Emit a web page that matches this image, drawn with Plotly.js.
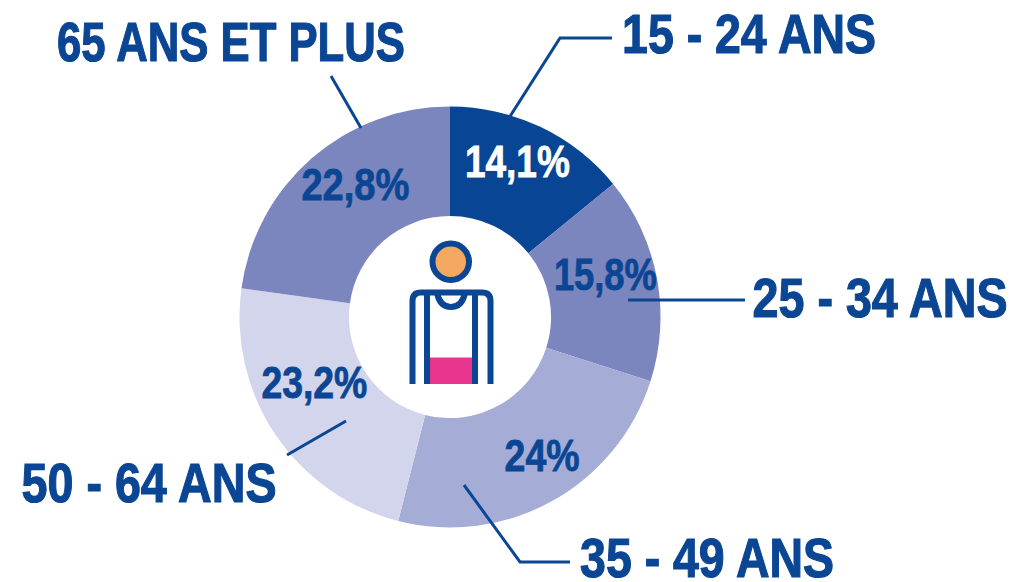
<!DOCTYPE html>
<html><head><meta charset="utf-8">
<script src="https://cdn.plot.ly/plotly-3.0.1.min.js"></script>
<style>html,body{margin:0;padding:0;background:#fff}#c{width:1034px;height:582px}</style>
</head><body><div id="c"></div>
<script>
const ageGroups = ["15 - 24 ANS","25 - 34 ANS","35 - 49 ANS","50 - 64 ANS","65 ANS ET PLUS"];
const shares = [14.1,15.8,24,23.2,22.8];
const shareLabels = ["14,1%","15,8%","24%","23,2%","22,8%"];
const sliceColors = ["#084594","#7a86bd","#a5acd6","#d2d5eb","#7a86bd"];
const W=1034,H=582,FONT='"Liberation Sans",Arial,sans-serif',BLUE="#0b4694";
const px=x=>x/W, py=y=>1-y/H;
const cx=450,cy=317,R=210.5;
const trace={type:"pie",values:shares,labels:ageGroups,sort:false,direction:"clockwise",rotation:0,hole:0.48,
  domain:{x:[px(cx-R),px(cx+R)],y:[py(cy+R),py(cy-R)]},
  marker:{colors:sliceColors,line:{width:0}},textinfo:"none",showlegend:false,hoverinfo:"label+value"};
const ageAnchors=[[749,33],[879.5,297],[707,557],[148.5,482],[231,42]];
const ageWidths=[254,255,254,255,348];
const pctAnchors=[[517.5,161],[605.5,274],[541.5,455],[314,382],[355,184]];
const pctWidths=[105,103,75,106,108];
const pctColors=["#ffffff",BLUE,BLUE,BLUE,BLUE];
const ann=[];
ageGroups.forEach((t,i)=>ann.push({text:t,x:px(ageAnchors[i][0]),y:py(ageAnchors[i][1]),xref:"paper",yref:"paper",xanchor:"center",yanchor:"middle",showarrow:false,font:{family:FONT,size:56,weight:700,color:BLUE}}));
shareLabels.forEach((t,i)=>ann.push({text:t,x:px(pctAnchors[i][0]),y:py(pctAnchors[i][1]),xref:"paper",yref:"paper",xanchor:"center",yanchor:"middle",showarrow:false,font:{family:FONT,size:44,weight:700,color:pctColors[i]}}));
const P=pts=>pts.map((p,i)=>(i?"L":"M")+px(p[0])+","+py(p[1])).join(" ");
const sh=(path,extra)=>Object.assign({type:"path",path,xref:"paper",yref:"paper",line:{color:BLUE,width:3}},extra||{});
const leaders=[[[509,118],[560,38],[612,38]],[[628,300],[745,300]],[[464,485],[520,562],[570,562]],[[287,455],[346,421]],[[331,76],[361,128]]];
const shapes=leaders.map(l=>sh(P(l)));
const iconLine={color:BLUE,width:6};
shapes.push({type:"rect",xref:"paper",yref:"paper",x0:px(429),x1:px(473),y0:py(384),y1:py(357.5),fillcolor:"#e8368f",line:{width:0}});
shapes.push({type:"circle",xref:"paper",yref:"paper",x0:px(432.5),x1:px(469),y0:py(280),y1:py(243.5),fillcolor:"#f4a860",line:iconLine});
const Q=(a,b,c,d)=>"Q"+px(a)+","+py(b)+" "+px(c)+","+py(d);
shapes.push(sh("M"+px(412.5)+","+py(384)+" L"+px(412.5)+","+py(301)+" "+Q(412.5,292.5,421,292.5)+" L"+px(482)+","+py(292.5)+" "+Q(490.5,292.5,490.5,301)+" L"+px(490.5)+","+py(384),{line:iconLine}));
shapes.push(sh(P([[427,293],[427,384]]),{line:iconLine}));
shapes.push(sh(P([[475,293],[475,384]]),{line:iconLine}));
shapes.push(sh("M"+px(437)+","+py(293)+" "+Q(440,307,451,307)+" "+Q(462,307,465,293),{line:iconLine}));
Plotly.newPlot("c",[trace],{width:W,height:H,margin:{l:0,r:0,t:0,b:0},paper_bgcolor:"#fff",showlegend:false,annotations:ann,shapes},{displayModeBar:false,staticPlot:true}).then(()=>{
  const widths=ageWidths.concat(pctWidths);
  document.querySelectorAll("#c .annotation-text").forEach((el,i)=>{
    const b=el.getBBox(), c=b.x+b.width/2, s=widths[i]/b.width;
    el.setAttribute("transform",`translate(${c},0) scale(${s},1) translate(${-c},0)`);
    el.style.stroke=el.style.fill;
    el.style.strokeWidth=i<ageWidths.length?"1.2px":"0.8px";
  });
});
</script></body></html>
